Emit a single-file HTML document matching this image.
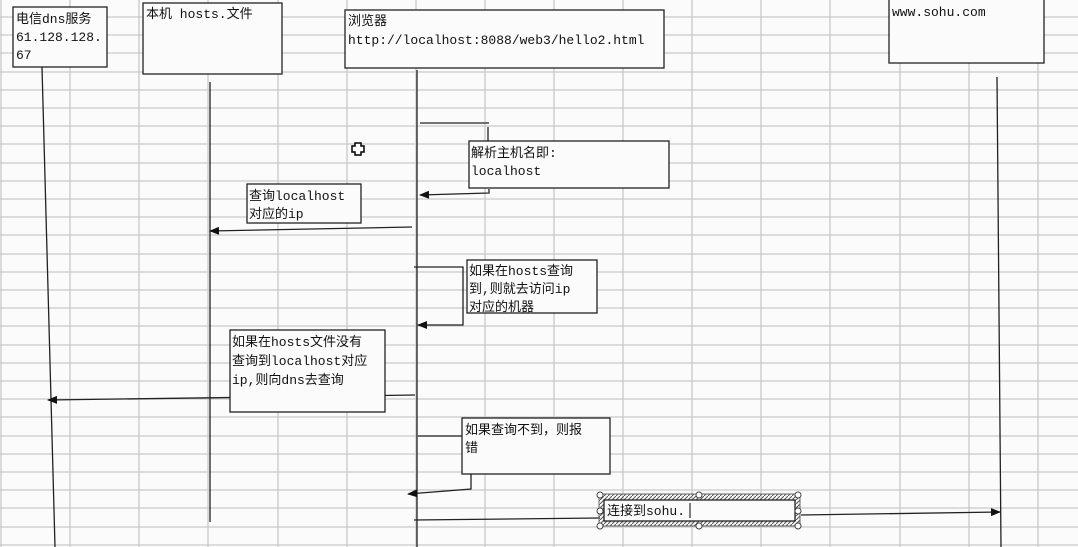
<!DOCTYPE html>
<html><head><meta charset="utf-8"><style>
html,body{margin:0;padding:0;background:#fbfbfb;}
svg{display:block}
text{font-family:"Liberation Mono","Noto Sans CJK SC",monospace;font-size:13px;fill:#111}
</style></head><body>
<svg width="1078" height="547" viewBox="0 0 1078 547" xmlns="http://www.w3.org/2000/svg">
<rect width="1078" height="547" fill="#fbfbfb"/>
<g stroke="#c9c9c9" stroke-width="1.3" fill="none">
<path d="M1 0V547M70 0V547M139 0V547M208 0V547M278 0V547M347 0V547M416 0V547M485 0V547M554 0V547M623 0V547M692 0V547M761 0V547M830 0V547M900 0V547M969 0V547M1038 0V547"/>
<path d="M0 17H1078M0 35H1078M0 53H1078M0 72H1078M0 90H1078M0 108H1078M0 126H1078M0 144H1078M0 163H1078M0 181H1078M0 199H1078M0 217H1078M0 235H1078M0 254H1078M0 272H1078M0 290H1078M0 308H1078M0 326H1078M0 345H1078M0 363H1078M0 381H1078M0 399H1078M0 417H1078M0 436H1078M0 454H1078M0 472H1078M0 490H1078M0 508H1078M0 527H1078M0 545H1078"/>
</g>
<defs><marker id="a" markerWidth="10" markerHeight="8" refX="9" refY="4" orient="auto" markerUnits="userSpaceOnUse"><path d="M0,0 L10,4 L0,8z" fill="#111"/></marker></defs>
<g stroke="#222" stroke-width="1.3" fill="none">
<!-- lifelines -->
<path d="M42 67L55 547"/>
<path d="M210 82V522"/>
<path d="M417 70V547"/>
<path d="M997 77L1001 547"/>
<!-- messages -->
<path d="M420 123H489"/>
<path d="M488 127V142"/>
<path d="M489 189V193L420 195" marker-end="url(#a)"/>
<path d="M412 227L210 231" marker-end="url(#a)"/>
<path d="M414 267H463V325H418" marker-end="url(#a)"/>
<path d="M415 395L48 400" marker-end="url(#a)"/>
<path d="M418 436H462"/>
<path d="M471 474V489L408 494" marker-end="url(#a)"/>
<path d="M414 520L600 518"/>
<path d="M801 515L1000 512" marker-end="url(#a)"/>
</g>
<g fill="#fbfbfb" stroke="#222" stroke-width="1.3">
<rect x="13" y="7" width="94" height="60"/>
<rect x="143" y="3" width="139" height="71"/>
<rect x="345" y="10" width="319" height="58"/>
<rect x="889" y="-1" width="155" height="64"/>
<rect x="469" y="141" width="200" height="47"/>
<rect x="247" y="184" width="114" height="39"/>
<rect x="467" y="260" width="130" height="53"/>
<rect x="230" y="330" width="155" height="82"/>
<rect x="462" y="418" width="148" height="56"/>
</g>
<defs><pattern id="h" width="4" height="4" patternUnits="userSpaceOnUse"><path d="M0 4L4 0" stroke="#555" stroke-width="1"/></pattern></defs>
<rect x="599" y="494" width="201" height="32" fill="url(#h)" stroke="#666"/>
<rect x="604" y="500" width="191" height="21" fill="#fbfbfb" stroke="#222" stroke-width="1.3"/>
<g fill="#fff" stroke="#444" stroke-width="1">
<circle cx="600" cy="495" r="3"/><circle cx="699" cy="495" r="3"/><circle cx="798" cy="495" r="3"/>
<circle cx="600" cy="511" r="3"/><circle cx="798" cy="511" r="3"/>
<circle cx="600" cy="526" r="3"/><circle cx="699" cy="526" r="3"/><circle cx="798" cy="526" r="3"/>
</g>
<path d="M690 503V518" stroke="#000" stroke-width="1"/>
<path d="M355 143h6v3h3v6h-3v3h-6v-3h-3v-6h3z" fill="#fff" stroke="#000" stroke-width="1.5"/>
<text x="16" y="23">电信dns服务</text>
<text x="16" y="41">61.128.128.</text>
<text x="16" y="59">67</text>
<text x="146" y="18">本机 hosts.文件</text>
<text x="348" y="25">浏览器</text>
<text x="348" y="44">http://localhost:8088/web3/hello2.html</text>
<text x="892" y="16">www.sohu.com</text>
<text x="471" y="157">解析主机名即:</text>
<text x="471" y="175">localhost</text>
<text x="249" y="200">查询localhost</text>
<text x="249" y="218">对应的ip</text>
<text x="469" y="275">如果在hosts查询</text>
<text x="469" y="293">到,则就去访问ip</text>
<text x="469" y="311">对应的机器</text>
<text x="232" y="346">如果在hosts文件没有</text>
<text x="232" y="365">查询到localhost对应</text>
<text x="232" y="384">ip,则向dns去查询</text>
<text x="465" y="434">如果查询不到，则报</text>
<text x="465" y="452">错</text>
<text x="607" y="515">连接到sohu.</text>
</svg>
</body></html>
